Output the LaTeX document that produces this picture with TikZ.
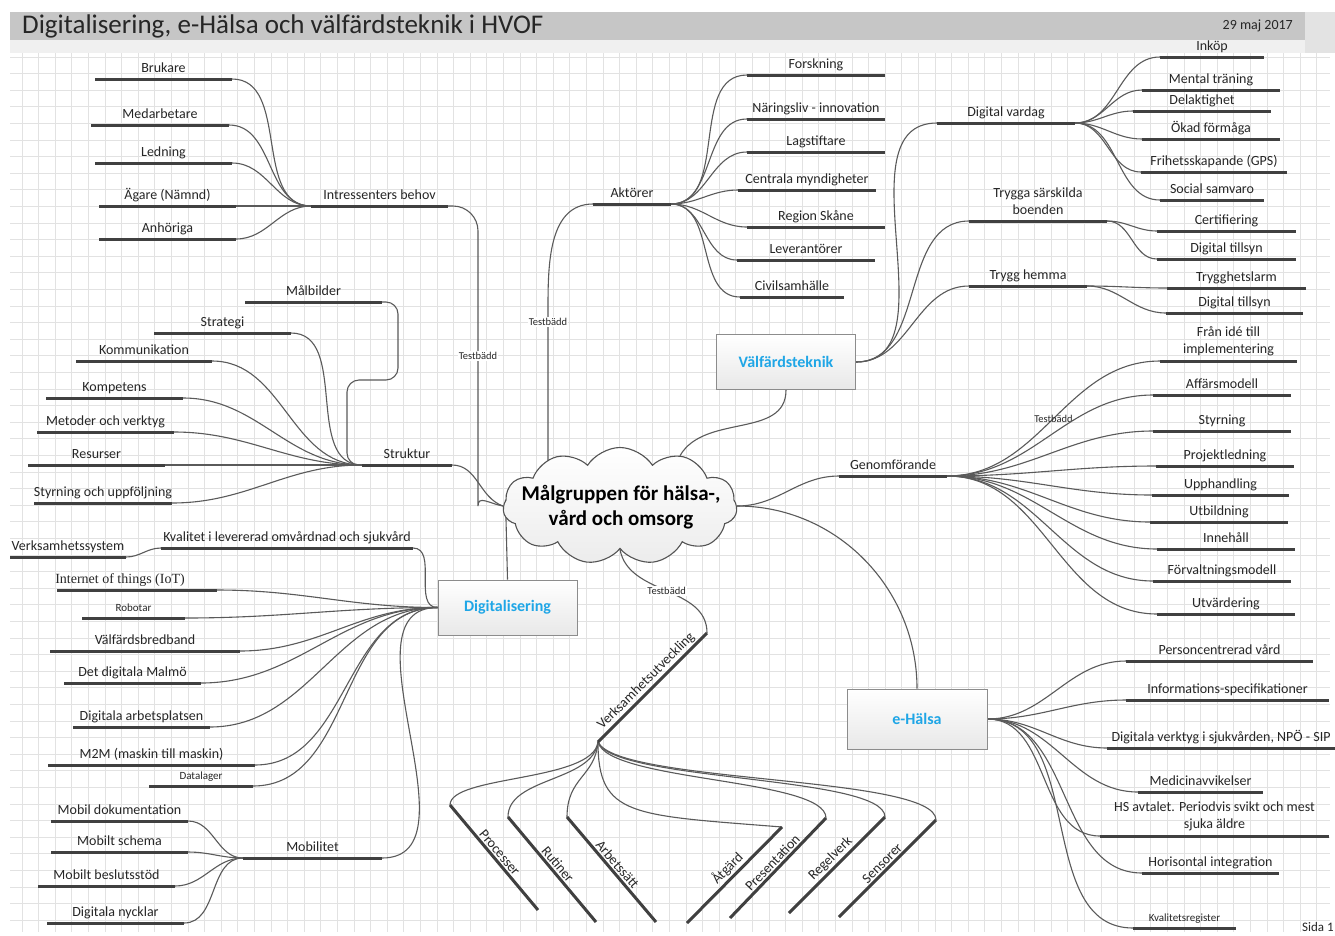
\documentclass[tikz,border=0pt]{standalone}
\usepackage{fontspec}
\setmainfont{Carlito}
\newfontfamily\iotserif{Liberation Serif}
\usetikzlibrary{shapes.symbols}
\usetikzlibrary{backgrounds}

\definecolor{txtgray}{HTML}{262626}
\definecolor{bargray}{HTML}{404040}
\definecolor{lingray}{HTML}{5A5A5A}
\definecolor{gridgray}{HTML}{E2E2E2}
\definecolor{boxgray}{HTML}{8C8C8C}
\definecolor{hsblue}{HTML}{1FA6E6}

\newcommand{\lblfont}{\fontsize{14}{17}\selectfont}
\newcommand{\smlfont}{\fontsize{11}{13}\selectfont}
\newcommand{\tbfont}{\fontsize{10.5}{12}\selectfont}
\newcommand{\titelfont}{\fontsize{27}{32}\selectfont}
\newcommand{\boxfont}{\fontsize{16}{19}\selectfont\bfseries}
\newcommand{\molnfont}{\fontsize{21}{25}\selectfont\bfseries}
\newcommand{\iotfont}{\iotserif\fontsize{14}{17}\selectfont}

\tikzset{
  rutnat/.style={draw=gridgray, line width=0.8pt},
  conn/.style={draw=lingray, line width=1.1pt},
  bar/.style={draw=bargray, line width=3pt},
  lbl/.style={font=\lblfont, text=txtgray, anchor=base, inner sep=0pt},
  smalltxt/.style={font=\smlfont},
  twolines/.style={anchor=center, align=center, yshift=13.5pt},
  iot/.style={font=\iotfont, xshift=-17pt},
  tb/.style={font=\tbfont, text=txtgray, fill=white, inner sep=1pt},
  huvud/.style={draw=boxgray, line width=1pt, top color=white, bottom color=gray!18,
    minimum width=139pt, minimum height=55pt, font=\boxfont, text=hsblue},
  rlbl/.style={font=\lblfont, text=txtgray, sloped, midway, above=1.5pt, inner sep=0pt}
}

% gren: namn, vanster x, hoger x, y, text
\newcommand{\gren}[6][]{%
  \coordinate (#2-l) at (#3,#5);
  \coordinate (#2-r) at (#4,#5);
  \draw[bar] (#2-l) -- (#2-r);
  \node[lbl,#1] (#2) at ({(#3+#4)/2},#5-6.5) {#6};}

\begin{document}
\begin{tikzpicture}[x=1pt, y=-1pt]
\useasboundingbox (0,0) rectangle (1335,935);

% bakgrund och rutnat
\begin{scope}[on background layer]
  \fill[white] (0,0) rectangle (1335,935);
  \foreach \gx in {22,38.6,...,1330} \draw[rutnat] (\gx,53) -- (\gx,932);
  \foreach \gy in {57,73.6,...,932} \draw[rutnat] (10,\gy) -- (1330,\gy);
\end{scope}

% rubrik
\fill[gray!45] (10,12) rectangle (1305,40);
\fill[gray!12] (10,40) rectangle (1305,53);
\fill[gray!22] (1305,12) rectangle (1335,53);
\node[anchor=base west, font=\titelfont, text=txtgray, inner sep=0pt] (titel) at (22,33) {Digitalisering, e-Hälsa och välfärdsteknik i HVOF};
\node[anchor=base east, font=\lblfont, text=txtgray, inner sep=0pt] (datum) at (1293,29) {29 maj 2017};
\node[anchor=base west, font=\fontsize{13}{15}\selectfont, text=txtgray, inner sep=0pt] (sida) at (1302,931) {Sida 1};

% mitten
\node[cloud, cloud puffs=11, cloud puff arc=115, cloud ignores aspect, minimum width=234pt, minimum height=117pt,
  draw=gray!65!black, line width=1.1pt, top color=white, bottom color=gray!15] (mal) at (620,506) {};
\node[font=\molnfont, align=center, inner sep=0pt] (maltxt) at (621,507) {Målgruppen för hälsa-,\\vård och omsorg};

\node[huvud] (vt) at (786,362) {Välfärdsteknik};
\node[huvud] (dg) at (507.5,607.5) {Digitalisering};
\node[huvud, minimum width=140pt, minimum height=60pt] (eh) at (917,719) {e-Hälsa};

% intressenters behov
\gren{bru}{95}{232}{79}{Brukare}
\gren{med}{91}{229}{125}{Medarbetare}
\gren{led}{95}{232}{163}{Ledning}
\gren{aga}{99}{236}{206}{Ägare (Nämnd)}
\gren{anh}{99}{236}{239}{Anhöriga}
\gren{ib}{311}{448}{206}{Intressenters behov}

% struktur
\gren{mab}{245}{382}{302}{Målbilder}
\gren{stg}{154}{291}{333}{Strategi}
\gren{kom}{76}{212}{361}{Kommunikation}
\gren{kpt}{46}{183}{398}{Kompetens}
\gren{met}{37}{174}{432}{Metoder och verktyg}
\gren{res}{28}{165}{465}{Resurser}
\gren{sty}{34}{172}{503}{Styrning och uppföljning}
\gren{st}{362}{452}{465}{Struktur}

% aktorer
\gren{ak}{593}{671}{204}{Aktörer}
\gren{fors}{747}{885}{75}{Forskning}
\gren{nar}{747}{885}{119}{Näringsliv - innovation}
\gren{lag}{747}{885}{152}{Lagstiftare}
\gren{cen}{738}{876}{190}{Centrala myndigheter}
\gren{reg}{747}{885}{227}{Region Skåne}
\gren{lev}{737}{875}{260}{Leverantörer}
\gren{civ}{740}{844}{297}{Civilsamhälle}

% valfardsteknik
\gren{dv}{937}{1075}{123}{Digital vardag}
\gren{ink}{1160}{1264}{57}{Inköp}
\gren{men}{1142}{1280}{90}{Mental träning}
\gren{del}{1133}{1271}{111}{Delaktighet}
\gren{oka}{1142}{1280}{139}{Ökad förmåga}
\gren{fri}{1141}{1287}{172}{Frihetsskapande (GPS)}
\gren{soc}{1160}{1264}{200}{Social samvaro}
\gren[twolines]{tsb}{969}{1107}{221}{Trygga särskilda\\boenden}
\gren{cer}{1157}{1296}{231}{Certifiering}
\gren{dta}{1157}{1296}{259}{Digital tillsyn}
\gren{th}{969}{1087}{286}{Trygg hemma}
\gren{tla}{1167}{1306}{288}{Trygghetslarm}
\gren{dtb}{1166}{1303}{313}{Digital tillsyn}

% genomforande
\gren{gf}{839}{947}{476}{Genomförande}
\gren[twolines]{fid}{1160}{1297}{361}{Från idé till\\implementering}
\gren{aff}{1153}{1291}{395}{Affärsmodell}
\gren{gst}{1153}{1291}{431}{Styrning}
\gren{pro}{1156}{1294}{466}{Projektledning}
\gren{upp}{1152}{1289}{495}{Upphandling}
\gren{utb}{1150}{1288}{522}{Utbildning}
\gren{inn}{1157}{1295}{549}{Innehåll}
\gren{frv}{1153}{1291}{581}{Förvaltningsmodell}
\gren{utv}{1157}{1295}{614}{Utvärdering}

% e-halsa
\gren{pcv}{1126}{1313}{661}{Personcentrerad vård}
\gren{ifs}{1126}{1329}{700}{Informations-specifikationer}
\gren{dvs}{1107}{1335}{748}{Digitala verktyg i sjukvården, NPÖ - SIP}
\gren{mav}{1138}{1263}{792}{Medicinavvikelser}
\gren[twolines]{hsa}{1100}{1329}{836}{HS avtalet. Periodvis svikt och mest\\sjuka äldre}
\gren{hor}{1142}{1279}{873}{Horisontal integration}
\gren[smalltxt]{kvr}{1133}{1236}{928}{Kvalitetsregister}

% digitalisering
\gren{kvl}{161}{413}{548}{Kvalitet i levererad omvårdnad och sjukvård}
\gren{vsy}{10}{126}{557}{Verksamhetssystem}
\gren[iot]{iot}{57}{217}{590}{Internet of things (IoT)}
\gren[smalltxt]{rob}{82}{185}{618}{Robotar}
\gren{vbb}{50}{240}{651}{Välfärdsbredband}
\gren{ddm}{64}{201}{683}{Det digitala Malmö}
\gren{dap}{73}{210}{727}{Digitala arbetsplatsen}
\gren{mtm}{48}{255}{765}{M2M (maskin till maskin)}
\gren[smalltxt]{dla}{149}{253}{786}{Datalager}
\gren{mob}{243}{382}{858}{Mobilitet}
\gren{mdo}{51}{188}{821}{Mobil dokumentation}
\gren{msc}{51}{188}{852}{Mobilt schema}
\gren{mbs}{38}{175}{886}{Mobilt beslutsstöd}
\gren{dny}{47}{184}{923}{Digitala nycklar}

% verksamhetsutveckling
\coordinate (vu-t) at (707,633);
\coordinate (vu-b) at (598,742);
\draw[bar] (vu-b) -- (vu-t) node[rlbl] (vu) {Verksamhetsutveckling};
\coordinate (proc-t) at (450,805); \coordinate (proc-b) at (538,910);
\coordinate (rut-t) at (508,817);  \coordinate (rut-b) at (596,922);
\coordinate (arb-t) at (567,817);  \coordinate (arb-b) at (656,922);
\coordinate (atg-t) at (782,827);  \coordinate (atg-b) at (687,923);
\coordinate (pre-t) at (826,818);  \coordinate (pre-b) at (730,918);
\coordinate (rgv-t) at (885,817);  \coordinate (rgv-b) at (789,913);
\coordinate (sen-t) at (936,820);  \coordinate (sen-b) at (839,917);
\draw[bar] (proc-t) -- (proc-b) node[rlbl] (proc) {Processer};
\draw[bar] (rut-t) -- (rut-b) node[rlbl] (rut) {Rutiner};
\draw[bar] (arb-t) -- (arb-b) node[rlbl] (arb) {Arbetssätt};
\draw[bar] (atg-b) -- (atg-t) node[rlbl] (atg) {Åtgärd};
\draw[bar] (pre-b) -- (pre-t) node[rlbl] (pre) {Presentation};
\draw[bar] (rgv-b) -- (rgv-t) node[rlbl] (rgv) {Regelverk};
\draw[bar] (sen-b) -- (sen-t) node[rlbl] (sen) {Sensorer};

% testbadd
\node[tb] (tba) at (478,356) {Testbädd};
\node[tb] (tbb) at (548,322) {Testbädd};

% kopplingar
\begin{scope}[on background layer]
  \foreach \nm in {bru,med,led,aga,anh} \draw[conn] (\nm-r) to[out=0,in=180] (ib-l);
  \foreach \nm in {stg,kom,kpt,met,res,sty} \draw[conn] (\nm-r) to[out=0,in=180] (st-l);
  \draw[conn, rounded corners=12pt] (mab-r) -| ++(16,78) -| ++(-51,85) -- (st-l);
  \draw[conn, rounded corners=25pt] (ib-r) -| ++(30,275) to[out=-90,in=170] (mal.west);
  \draw[conn] (st-r) to[out=0,in=160] (mal.west);
  \draw[conn] (ak-l) to[out=180,in=90] ++(-45,105) -- ++(0,180);
  \foreach \nm in {fors,nar,lag,cen,reg,lev,civ} \draw[conn] (ak-r) to[out=0,in=180] (\nm-l);
  \draw[conn] (vt.south) to[out=-90,in=60] (mal.40);
  \foreach \nm in {dv,tsb,th} \draw[conn] (vt.east) to[out=0,in=180] (\nm-l);
  \foreach \nm in {ink,men,del,oka,fri,soc} \draw[conn] (dv-r) to[out=0,in=180] (\nm-l);
  \foreach \nm in {cer,dta} \draw[conn] (tsb-r) to[out=0,in=180] (\nm-l);
  \foreach \nm in {tla,dtb} \draw[conn] (th-r) to[out=0,in=180] (\nm-l);
  \draw[conn] (mal.east) to[out=0,in=180] (gf-l);
  \draw[conn] (gf-r) to[out=0,in=180] node[tb, fill=none, pos=0.5] (tbc) {Testbädd} (fid-l);
  \foreach \nm in {aff,gst,pro,upp,utb,inn,frv,utv} \draw[conn] (gf-r) to[out=0,in=180] (\nm-l);
  \draw[conn] (mal.east) to[out=0,in=90] (eh.north);
  \foreach \nm in {pcv,ifs,dvs,mav,hsa,hor,kvr} \draw[conn] (eh.east) to[out=0,in=180] (\nm-l);
  \draw[conn] (dg.north) -- ++(-2,-80);
  \foreach \nm in {kvl,iot,rob,vbb,ddm,dap,mtm,dla,mob} \draw[conn] (\nm-r) to[out=0,in=180] (dg.west);
  \draw[conn] (vsy-r) to[out=0,in=180] (kvl-l);
  \foreach \nm in {mdo,msc,mbs,dny} \draw[conn] (\nm-r) to[out=0,in=180] (mob-l);
  \draw[conn] (mal.south) to[out=-80,in=90] node[tb, pos=0.5] (tbd) {Testbädd} (vu-t);
  \draw[conn] (vu-b) .. controls +(-5,40) and +(0,-30) .. (proc-t);
  \draw[conn] (vu-b) .. controls +(-5,40) and +(0,-40) .. (rut-t);
  \draw[conn] (vu-b) .. controls +(-3,35) and +(0,-40) .. (arb-t);
  \draw[conn] (vu-b) .. controls +(0,75) and +(-150,-12) .. (atg-t);
  \draw[conn] (vu-b) .. controls +(10,40) and +(0,-40) .. (pre-t);
  \draw[conn] (vu-b) .. controls +(15,40) and +(0,-42) .. (rgv-t);
  \draw[conn] (vu-b) .. controls +(20,42) and +(0,-45) .. (sen-t);
\end{scope}

\end{tikzpicture}
\end{document}
